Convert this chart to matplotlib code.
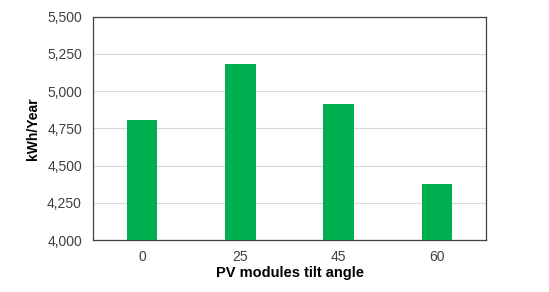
import matplotlib
matplotlib.use("Agg")
import matplotlib.pyplot as plt
from matplotlib.ticker import FuncFormatter

categories = ["0", "25", "45", "60"]
values = [4806, 5182, 4911, 4376]

plt.rcParams['font.family'] = ['Liberation Sans', 'DejaVu Sans']

fig = plt.figure(figsize=(5.49, 2.92), dpi=100)
ax = fig.add_axes([93/549, 52/292, (486-93)/549, (240-16.7)/292])

x = range(len(categories))
ax.bar(x, values, width=0.31, color="#00B050", zorder=3)
ax.set_xlim(-0.5, len(categories) - 0.5)
ax.set_ylim(4000, 5500)
ax.set_yticks(range(4000, 5501, 250))
ax.yaxis.set_major_formatter(FuncFormatter(lambda v, p: f"{int(v):,}"))
ax.set_xticks(list(x))
ax.set_xticklabels(categories)
ax.grid(axis='y', color="#D9D9D9", linewidth=0.8, zorder=0)
ax.tick_params(length=0, labelsize=10, colors="#404040")
ax.tick_params(axis='y', pad=8)
ax.tick_params(axis='x', pad=7)
for s in ax.spines.values():
    s.set_color("#404040")
    s.set_linewidth(0.9)
ax.set_xlabel("PV modules tilt angle", fontsize=10.5, fontweight='bold', labelpad=2)
ax.set_ylabel("kWh/Year", fontsize=10, fontweight='bold', labelpad=5)

fig.savefig("out.png", dpi=100)
